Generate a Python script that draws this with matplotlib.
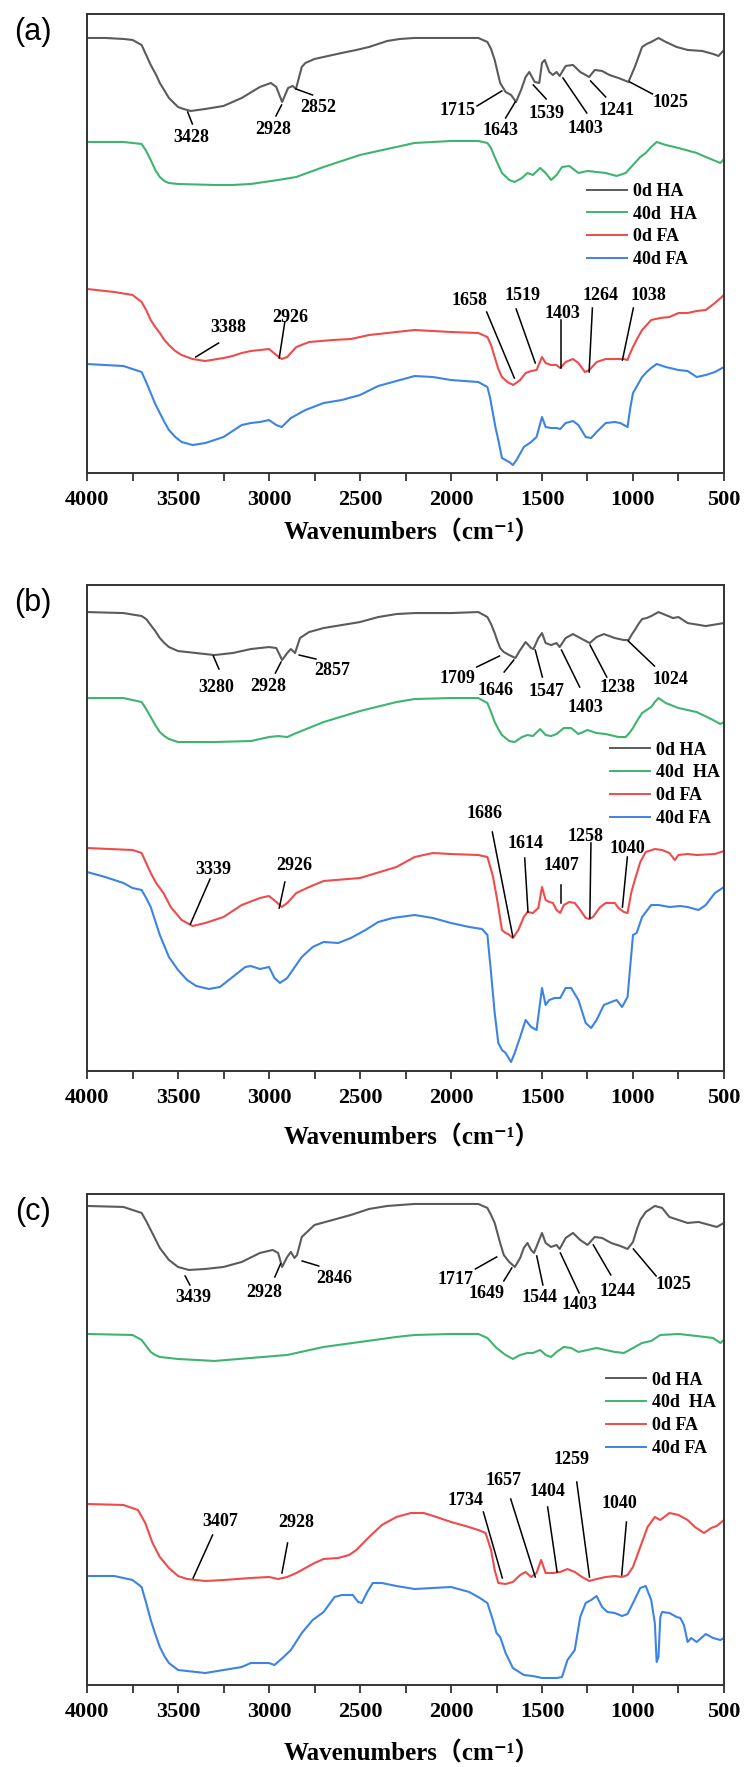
import numpy as np
import matplotlib
matplotlib.use("Agg")
import matplotlib.pyplot as plt
from matplotlib.ticker import MultipleLocator

# ---------------- panel (a) ----------------
wn_a_ha0 = [4000, 3900, 3800, 3750, 3700, 3680, 3650, 3620, 3600, 3550, 3500, 3470, 3430, 3350, 3250, 3150,
            3050, 2990, 2960, 2928, 2895, 2870, 2852, 2820, 2800, 2750, 2700, 2600, 2520, 2450, 2350, 2280,
            2200, 2000, 1850, 1800, 1780, 1760, 1730, 1700, 1670, 1643, 1615, 1590, 1570, 1540, 1515, 1500,
            1485, 1460, 1440, 1420, 1403, 1370, 1330, 1290, 1241, 1210, 1170, 1130, 1080, 1025, 990, 970,
            950, 925, 900, 860, 820, 760, 700, 620, 560, 530, 500]
ab_a_ha0 = [435, 435, 434, 433, 428, 420, 408, 398, 390, 375, 366, 364, 362, 364, 367, 375,
            386, 390, 386, 371, 385, 387, 384, 406, 410, 414, 416, 420, 423, 426, 432, 434,
            435, 435, 435, 431, 424, 413, 390, 381, 378, 371, 383, 396, 401, 391, 390, 410,
            413, 401, 398, 401, 397, 407, 408, 401, 396, 403, 402, 398, 395, 391, 406, 416,
            426, 429, 431, 435, 431, 426, 423, 422, 419, 417, 423]

wn_a_ha40 = [4000, 3800, 3700, 3675, 3650, 3625, 3600, 3575, 3550, 3500, 3300, 3200, 3100, 2950, 2850, 2700,
             2500, 2400, 2300, 2200, 2000, 1850, 1800, 1780, 1760, 1740, 1720, 1680, 1650, 1610, 1580, 1550,
             1510, 1480, 1450, 1420, 1390, 1350, 1300, 1250, 1200, 1150, 1090, 1040, 1020, 1000, 980, 960,
             930, 900, 870, 820, 750, 650, 600, 560, 520, 500]
ab_a_ha40 = [331, 331, 329, 322, 313, 303, 296, 292, 290, 289, 288, 288, 289, 293, 296, 306,
             318, 322, 326, 330, 332, 332, 330, 325, 316, 308, 300, 293, 291, 295, 300, 298,
             305, 300, 293, 298, 306, 307, 300, 302, 301, 300, 297, 300, 304, 308, 312, 316,
             320, 326, 331, 328, 325, 320, 316, 313, 310, 314]

wn_a_fa0 = [4000, 3850, 3750, 3700, 3675, 3650, 3625, 3600, 3575, 3550, 3515, 3480, 3420, 3350, 3250, 3200,
            3150, 3100, 3050, 3000, 2960, 2930, 2900, 2850, 2780, 2650, 2550, 2450, 2350, 2200, 2000, 1850,
            1800, 1780, 1760, 1740, 1720, 1690, 1658, 1620, 1590, 1560, 1530, 1500, 1480, 1450, 1420, 1400,
            1370, 1330, 1300, 1264, 1240, 1200, 1150, 1100, 1050, 1030, 1015, 1000, 975, 950, 925, 900,
            850, 800, 750, 700, 650, 600, 550, 500]
ab_a_fa0 = [184, 181, 178, 171, 163, 153, 146, 140, 133, 128, 122, 118, 114, 112, 115, 117,
            120, 122, 123, 124, 118, 114, 116, 126, 131, 133, 134, 138, 140, 143, 141, 140,
            136, 128, 116, 104, 96, 91, 88, 93, 100, 102, 103, 116, 110, 108, 108, 105,
            111, 114, 110, 101, 103, 111, 114, 114, 114, 113, 120, 126, 135, 143, 148, 153,
            155, 156, 160, 160, 162, 163, 170, 178]

wn_a_fa40 = [4000, 3800, 3700, 3675, 3650, 3625, 3600, 3575, 3550, 3515, 3480, 3420, 3350, 3250, 3150, 3100,
             3050, 3000, 2960, 2930, 2880, 2800, 2700, 2600, 2500, 2400, 2320, 2200, 2100, 2000, 1850, 1800,
             1785, 1770, 1755, 1740, 1720, 1700, 1680, 1660, 1640, 1600, 1560, 1530, 1500, 1480, 1450, 1420,
             1400, 1370, 1330, 1300, 1260, 1230, 1200, 1150, 1100, 1070, 1030, 1015, 1000, 975, 950, 925,
             900, 870, 820, 750, 700, 650, 600, 550, 500]
ab_a_fa40 = [109, 107, 101, 91, 80, 69, 60, 51, 43, 36, 31, 28, 30, 36, 48, 50,
             51, 53, 48, 46, 55, 63, 70, 73, 78, 87, 91, 97, 96, 93, 91, 86,
             75, 60, 45, 33, 15, 13, 11, 8, 13, 26, 31, 36, 56, 46, 45, 45,
             44, 50, 52, 48, 36, 35, 41, 50, 51, 50, 46, 65, 80, 88, 96, 101,
             105, 109, 106, 103, 102, 96, 98, 101, 106]

# ---------------- panel (b) ----------------
wn_b_ha0 = [4000, 3800, 3700, 3675, 3650, 3625, 3600, 3575, 3550, 3500, 3400, 3300, 3200, 3100, 3000, 2960,
            2928, 2900, 2880, 2857, 2830, 2780, 2700, 2600, 2500, 2400, 2300, 2200, 2000, 1850, 1800, 1780,
            1760, 1745, 1730, 1710, 1680, 1646, 1620, 1590, 1560, 1547, 1520, 1500, 1480, 1450, 1420, 1403,
            1370, 1330, 1290, 1238, 1200, 1160, 1100, 1050, 1024, 1005, 990, 970, 950, 925, 900, 860,
            820, 780, 750, 700, 600, 500]
ab_b_ha0 = [459, 458, 455, 452, 446, 440, 433, 428, 424, 420, 418, 416, 418, 422, 424, 423,
            411, 418, 422, 418, 433, 439, 443, 446, 449, 454, 457, 458, 458, 459, 454, 447,
            438, 430, 423, 419, 416, 413, 421, 429, 423, 422, 433, 438, 428, 426, 428, 424,
            433, 437, 433, 428, 434, 437, 433, 431, 431, 437, 441, 447, 452, 453, 455, 459,
            456, 453, 454, 448, 445, 448]

wn_b_ha40 = [4000, 3800, 3700, 3675, 3650, 3625, 3600, 3575, 3550, 3500, 3300, 3100, 3000, 2950, 2900, 2850,
             2700, 2500, 2300, 2200, 2000, 1850, 1800, 1780, 1760, 1740, 1720, 1680, 1650, 1610, 1580, 1550,
             1510, 1480, 1450, 1420, 1380, 1340, 1300, 1250, 1200, 1150, 1080, 1040, 1020, 1000, 975, 950,
             925, 900, 880, 860, 820, 750, 650, 560, 520, 500]
ab_b_ha40 = [373, 373, 369, 362, 354, 346, 339, 335, 332, 329, 329, 330, 334, 335, 334, 338,
             349, 360, 369, 372, 373, 373, 368, 359, 349, 342, 336, 330, 329, 334, 336, 335,
             342, 336, 335, 337, 343, 343, 337, 341, 338, 337, 334, 334, 338, 343, 351, 358,
             361, 364, 369, 373, 368, 363, 359, 351, 347, 349]

wn_b_fa0 = [4000, 3750, 3700, 3675, 3650, 3620, 3580, 3540, 3480, 3420, 3350, 3250, 3150, 3050, 3000, 2960,
            2930, 2900, 2850, 2780, 2700, 2500, 2300, 2200, 2100, 2000, 1850, 1800, 1770, 1745, 1720, 1700,
            1686, 1660, 1630, 1600, 1580, 1550, 1520, 1500, 1480, 1460, 1440, 1420, 1400, 1380, 1350, 1320,
            1290, 1260, 1240, 1220, 1180, 1150, 1100, 1080, 1050, 1030, 1010, 990, 960, 930, 880, 840,
            800, 770, 750, 700, 650, 550, 500]
ab_b_fa0 = [223, 221, 218, 208, 198, 188, 178, 164, 151, 145, 148, 154, 166, 173, 175, 169,
            164, 168, 178, 184, 190, 193, 204, 214, 218, 217, 216, 214, 195, 170, 141, 138,
            137, 133, 141, 154, 159, 158, 163, 184, 171, 169, 168, 161, 158, 166, 169, 168,
            161, 153, 152, 154, 164, 168, 168, 163, 159, 158, 178, 191, 209, 219, 222, 221,
            218, 211, 216, 217, 216, 217, 220]

wn_b_fa40 = [4000, 3900, 3800, 3750, 3700, 3675, 3650, 3625, 3600, 3575, 3550, 3500, 3450, 3400, 3330, 3270,
             3200, 3130, 3100, 3050, 3000, 2970, 2940, 2900, 2870, 2820, 2760, 2700, 2620, 2550, 2470, 2400,
             2320, 2200, 2100, 2000, 1900, 1830, 1800, 1780, 1760, 1740, 1720, 1700, 1670, 1650, 1620, 1590,
             1560, 1530, 1500, 1480, 1460, 1430, 1400, 1370, 1340, 1300, 1260, 1230, 1200, 1160, 1120, 1090,
             1060, 1030, 1000, 980, 950, 900, 860, 800, 740, 700, 640, 600, 550, 500]
ab_b_fa40 = [199, 194, 188, 183, 181, 173, 164, 150, 136, 125, 114, 101, 91, 85, 82, 84,
             94, 104, 105, 102, 104, 93, 88, 93, 101, 114, 124, 129, 128, 133, 141, 149,
             153, 156, 153, 148, 144, 142, 136, 98, 58, 28, 21, 18, 9, 18, 34, 51,
             44, 41, 83, 66, 71, 73, 73, 83, 83, 71, 48, 43, 51, 66, 69, 71,
             64, 74, 136, 138, 154, 166, 166, 164, 165, 164, 161, 166, 178, 184]

# ---------------- panel (c) ----------------
wn_c_ha0 = [4000, 3800, 3700, 3675, 3650, 3625, 3600, 3575, 3550, 3500, 3440, 3350, 3250, 3150, 3050, 2980,
            2950, 2928, 2900, 2880, 2860, 2846, 2820, 2750, 2650, 2550, 2450, 2350, 2200, 2000, 1850, 1800,
            1780, 1760, 1745, 1730, 1710, 1680, 1649, 1620, 1600, 1580, 1560, 1544, 1520, 1500, 1480, 1450,
            1420, 1403, 1370, 1330, 1290, 1250, 1210, 1170, 1120, 1070, 1030, 1000, 980, 960, 945, 930,
            880, 840, 800, 750, 700, 640, 580, 540, 500]
ab_c_ha0 = [479, 478, 472, 464, 455, 446, 437, 431, 425, 418, 415, 416, 418, 423, 432, 435,
            432, 418, 428, 433, 427, 430, 448, 460, 465, 470, 476, 479, 481, 481, 481, 477,
            470, 462, 452, 442, 430, 423, 418, 427, 437, 442, 435, 432, 443, 452, 442, 438,
            440, 436, 447, 452, 445, 440, 448, 447, 442, 439, 436, 443, 455, 465, 469, 473,
            479, 477, 468, 465, 462, 463, 460, 458, 462]

wn_c_ha40 = [4000, 3750, 3700, 3675, 3650, 3625, 3600, 3500, 3300, 3100, 2900, 2700, 2500, 2300, 2200, 2000,
             1850, 1800, 1750, 1700, 1660, 1620, 1580, 1550, 1510, 1480, 1450, 1420, 1380, 1340, 1300, 1250,
             1200, 1150, 1100, 1050, 1000, 950, 900, 850, 750, 650, 560, 520, 500]
ab_c_ha40 = [351, 350, 345, 339, 333, 330, 328, 326, 324, 327, 330, 338, 343, 348, 350, 351,
             351, 347, 337, 330, 326, 330, 332, 332, 335, 330, 328, 333, 338, 337, 333, 335,
             337, 335, 333, 332, 337, 342, 344, 350, 351, 349, 347, 342, 345]

wn_c_fa0 = [4000, 3800, 3720, 3680, 3640, 3600, 3550, 3500, 3450, 3350, 3250, 3100, 3000, 2950, 2900, 2850,
            2800, 2750, 2700, 2620, 2560, 2520, 2450, 2380, 2300, 2220, 2150, 2080, 2000, 1920, 1850, 1810,
            1780, 1760, 1740, 1700, 1660, 1620, 1590, 1560, 1530, 1505, 1480, 1440, 1400, 1360, 1320, 1280,
            1240, 1200, 1150, 1100, 1060, 1030, 1000, 960, 920, 880, 850, 800, 750, 700, 660, 610, 570, 540, 500]
ab_c_fa0 = [181, 180, 175, 162, 142, 128, 117, 109, 106, 104, 105, 107, 108, 106, 108, 112,
            117, 122, 126, 127, 130, 135, 148, 160, 168, 172, 172, 168, 163, 159, 155, 152,
            135, 115, 102, 101, 103, 110, 113, 108, 112, 125, 112, 112, 113, 116, 113, 108,
            104, 106, 108, 109, 108, 110, 118, 138, 158, 168, 165, 172, 170, 165, 158, 152, 157, 159, 165]

wn_c_fa40 = [4000, 3850, 3750, 3700, 3675, 3650, 3625, 3600, 3575, 3550, 3500, 3400, 3350, 3250, 3150, 3100,
             3000, 2970, 2920, 2880, 2820, 2760, 2700, 2640, 2600, 2540, 2510, 2490, 2460, 2430, 2380, 2300,
             2200, 2100, 2000, 1900, 1850, 1800, 1770, 1750, 1730, 1700, 1660, 1600, 1550, 1500, 1420, 1390,
             1360, 1320, 1290, 1260, 1230, 1200, 1170, 1140, 1100, 1060, 1030, 1000, 960, 930, 900, 880,
             870, 860, 850, 840, 800, 760, 740, 720, 700, 680, 650, 600, 560, 520, 500]
ab_c_fa40 = [109, 109, 105, 98, 82, 65, 51, 38, 29, 22, 15, 13, 12, 15, 18, 22,
             22, 20, 28, 35, 52, 65, 73, 88, 90, 90, 83, 82, 93, 102, 102, 99,
             96, 97, 98, 93, 88, 82, 65, 52, 48, 32, 17, 10, 9, 7, 7, 8,
             25, 35, 68, 82, 85, 89, 78, 73, 72, 69, 71, 82, 97, 99, 85, 62,
             23, 28, 68, 73, 72, 68, 67, 60, 43, 47, 43, 51, 47, 45, 47]

series_labels = ['0d HA', '40d  HA', '0d FA', '40d FA']
series_colors = ['#5b5b5b', '#3fb46e', '#ef4b4b', '#3c83e6']

# peak labels: text, text position (wn, a.u.), leader line (wn1, a.u.1, wn2, a.u.2)
peaks_a = [
    ('3428', 3429, 335, 3447, 361, 3421, 349),
    ('2928', 2978, 343, 2931, 368, 2962, 357),
    ('2852', 2727, 365, 2852, 384, 2761, 378),
    ('1715', 1962, 362, 1721, 382, 1857, 367),
    ('1643', 1726, 342, 1647, 371, 1700, 355),
    ('1539', 1477, 359, 1548, 388, 1477, 374),
    ('1403', 1259, 344, 1385, 395, 1254, 360),
    ('1241', 1089, 362, 1233, 392, 1150, 376),
    ('1025', 796, 370, 1018, 391, 893, 379),
    ('3388', 3224, 146, 3403, 116, 3277, 130),
    ('2926', 2884, 156, 2944, 115, 2913, 151),
    ('1658', 1896, 173, 1804, 161, 1652, 95),
    ('1519', 1608, 178, 1642, 164, 1537, 110),
    ('1403', 1390, 160, 1393, 153, 1393, 105),
    ('1264', 1181, 178, 1223, 165, 1241, 101),
    ('1038', 914, 178, 998, 165, 1058, 113),
]
peaks_b = [
    ('3280', 3290, 384, 3306, 415, 3275, 402),
    ('2928', 3004, 385, 2934, 409, 2965, 398),
    ('2857', 2651, 401, 2834, 416, 2742, 412),
    ('1709', 1964, 393, 1734, 415, 1859, 404),
    ('1646', 1755, 381, 1655, 411, 1708, 399),
    ('1547', 1477, 380, 1537, 421, 1498, 394),
    ('1403', 1262, 364, 1393, 421, 1293, 384),
    ('1238', 1087, 384, 1236, 426, 1144, 394),
    ('1024', 796, 392, 1026, 430, 882, 405),
    ('3339', 3306, 202, 3324, 192, 3432, 147),
    ('2926', 2860, 206, 2913, 189, 2944, 163),
    ('1686', 1818, 258, 1773, 239, 1660, 134),
    ('1614', 1590, 228, 1595, 213, 1577, 159),
    ('1407', 1394, 206, 1394, 186, 1394, 168),
    ('1258', 1262, 235, 1231, 228, 1237, 153),
    ('1040', 1031, 223, 1031, 214, 1058, 164),
]
peaks_c = [
    ('3439', 3414, 387, 3461, 409, 3435, 400),
    ('2928', 3025, 392, 2937, 421, 2968, 408),
    ('2846', 2644, 406, 2818, 424, 2727, 419),
    ('1717', 1977, 405, 1749, 428, 1866, 416),
    ('1649', 1806, 391, 1666, 417, 1710, 404),
    ('1544', 1516, 387, 1529, 429, 1495, 400),
    ('1403', 1296, 380, 1399, 432, 1296, 392),
    ('1244', 1083, 393, 1218, 440, 1122, 410),
    ('1025', 777, 400, 998, 436, 873, 409),
    ('3407', 3266, 163, 3310, 150, 3417, 107),
    ('2928', 2851, 162, 2898, 142, 2929, 112),
    ('1734', 1918, 184, 1822, 173, 1718, 107),
    ('1657', 1710, 204, 1672, 186, 1537, 108),
    ('1404', 1469, 193, 1469, 178, 1417, 113),
    ('1259', 1340, 225, 1309, 203, 1239, 108),
    ('1040', 1075, 181, 1036, 163, 1062, 110),
]

serif_bold = dict(family='Liberation Serif', weight='bold')

fig = plt.figure(figsize=(7.47, 17.67), dpi=100)

panels = [
    ('(a)', [0.1165, 0.7323, 0.8527, 0.2598], 459,
     [(wn_a_ha0, ab_a_ha0), (wn_a_ha40, ab_a_ha40), (wn_a_fa0, ab_a_fa0), (wn_a_fa40, ab_a_fa40)],
     peaks_a, (0.785, 0.632), 59),
    ('(b)', [0.1165, 0.3939, 0.8527, 0.2750], 486,
     [(wn_b_ha0, ab_b_ha0), (wn_b_ha40, ab_b_ha40), (wn_b_fa0, ab_b_fa0), (wn_b_fa40, ab_b_fa40)],
     peaks_b, (0.821, 0.678), 67),
    ('(c)', [0.1165, 0.0464, 0.8527, 0.2779], 491,
     [(wn_c_ha0, ab_c_ha0), (wn_c_ha40, ab_c_ha40), (wn_c_fa0, ab_c_fa0), (wn_c_fa40, ab_c_fa40)],
     peaks_c, (0.815, 0.638), 68),
]

for tag, rect, ymax, curves, peaks, leg_pos, lab_off in panels:
    ax = fig.add_axes(rect)
    for (wn, ab), lab, col in zip(curves, series_labels, series_colors):
        ax.plot(wn, ab, color=col, lw=1.5, label=lab, solid_joinstyle='round')
    for txt, tw, tv, w1, v1, w2, v2 in peaks:
        ax.plot([w1, w2], [v1, v2], color='black', lw=1.1)
        ax.text(tw, tv, txt, ha='center', va='center', fontsize=13, **serif_bold)

    ax.set_xlim(4000, 500)
    ax.set_ylim(0, ymax)
    ax.set_yticks([])
    ax.xaxis.set_major_locator(MultipleLocator(500))
    ax.xaxis.set_minor_locator(MultipleLocator(250))
    ax.tick_params(axis='x', which='both', direction='out', length=6, width=1.3, colors='#333333')
    ax.tick_params(axis='x', which='major', pad=6, labelcolor='black')
    for lbl in ax.get_xticklabels():
        lbl.set_fontfamily('Liberation Serif')
        lbl.set_fontweight('bold')
        lbl.set_fontsize(16)
    for sp in ax.spines.values():
        sp.set_linewidth(1.4)
        sp.set_color('#333333')

    ax.set_xlabel('Wavenumbers（cm⁻¹）', fontsize=18, fontweight='bold',
                  family=['Liberation Serif', 'Noto Sans CJK SC', 'DejaVu Serif'])
    ax.xaxis.label.set_va('center')
    ax.xaxis.set_label_coords(0.51, -lab_off / (rect[3] * 1767))

    leg = ax.legend(loc='upper left', bbox_to_anchor=leg_pos, frameon=False,
                    handlelength=2.2, handletextpad=0.35, labelspacing=0.32,
                    borderpad=0, borderaxespad=0,
                    prop={'family': 'Liberation Serif', 'weight': 'bold', 'size': 13})
    for h in leg.get_lines():
        h.set_linewidth(1.4)

    fig.text(33 / 747, (rect[1] + rect[3]) - 18 / 1767, tag, ha='center', va='center',
             fontsize=22, family='Liberation Sans')

fig.savefig('out.png', dpi=100)
